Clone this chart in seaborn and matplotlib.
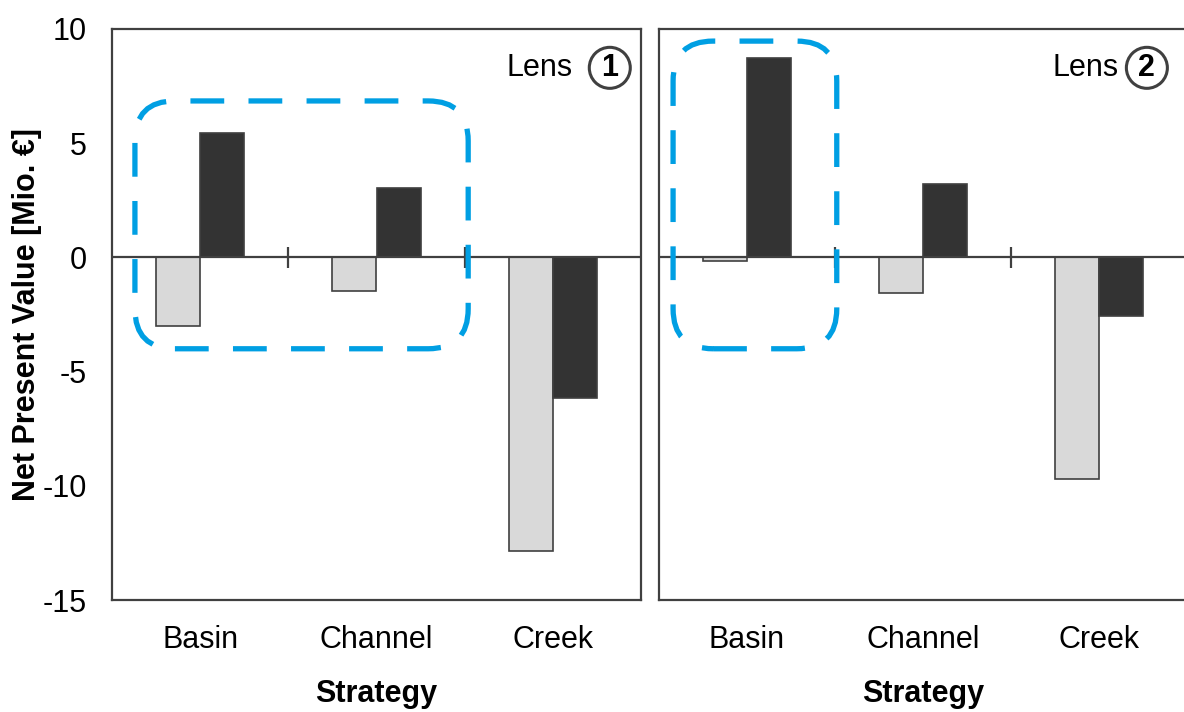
import pandas as pd
import matplotlib
matplotlib.use("Agg")
import matplotlib.pyplot as plt
import seaborn as sns
from matplotlib.patches import FancyBboxPatch
from matplotlib.transforms import IdentityTransform

# Data (Mio. EUR)
strategies = ["Basin", "Channel", "Creek"]
variants = ["Variant A", "Variant B"]
lens1_a = [-3.0, -1.45, -12.85]
lens1_b = [5.45, 3.05, -6.15]
lens2_a = [-0.15, -1.55, -9.7]
lens2_b = [8.75, 3.2, -2.55]

sns.set_style("white")
plt.rcParams["font.family"] = ["Liberation Sans", "DejaVu Sans"]
plt.rcParams["axes.unicode_minus"] = False
plt.rcParams["text.color"] = "black"
plt.rcParams["axes.labelcolor"] = "black"
plt.rcParams["xtick.color"] = "black"
plt.rcParams["ytick.color"] = "black"

edge = "#404040"
palette = {"Variant A": "#d9d9d9", "Variant B": "#333333"}
blue = "#009fe3"


def make_df(a, b):
    rows = []
    for s, va, vb in zip(strategies, a, b):
        rows.append({"Strategy": s, "Variant": variants[0], "NPV": va})
        rows.append({"Strategy": s, "Variant": variants[1], "NPV": vb})
    return pd.DataFrame(rows)


W, H = 1184, 712
fig = plt.figure(figsize=(W / 100, H / 100), dpi=100)
ax1 = fig.add_axes([112 / W, (H - 600) / H, 529 / W, 571 / H])
ax2 = fig.add_axes([659 / W, (H - 600) / H, 528 / W, 571 / H])

panels = [
    (ax1, make_df(lens1_a, lens1_b)),
    (ax2, make_df(lens2_a, lens2_b)),
]

for ax, df in panels:
    sns.barplot(
        data=df, x="Strategy", y="NPV", hue="Variant", order=strategies,
        hue_order=variants, palette=palette, width=0.5, edgecolor=edge,
        linewidth=1.2, saturation=1, ax=ax, legend=False,
    )
    ax.set_xlim(-0.5, 2.5)
    ax.set_ylim(-15, 10)
    ax.set_yticks([-15, -10, -5, 0, 5, 10])
    # zero axis line with category separator ticks
    ax.axhline(0, color=edge, lw=1.6, zorder=3)
    ax.vlines([0.5, 1.5], -0.45, 0.45, color=edge, lw=1.6, zorder=3)
    for sp in ax.spines.values():
        sp.set_color(edge)
        sp.set_linewidth(1.6)
    ax.tick_params(axis="both", length=0, labelsize=22)
    ax.tick_params(axis="x", pad=18)
    ax.tick_params(axis="y", pad=18)
    ax.set_xlabel("Strategy", fontsize=22, fontweight="bold", labelpad=17)
    ax.set_ylabel("")
    ax.text(0.87, 0.932, "Lens", transform=ax.transAxes, ha="right",
            va="center", fontsize=22)

ax1.text(0.941, 0.932, "1", transform=ax1.transAxes, ha="center", va="center",
         fontsize=22, fontweight="bold",
         bbox=dict(boxstyle="circle,pad=0.18", fc="white", ec=edge, lw=2.2))
ax2.text(0.924, 0.932, "2", transform=ax2.transAxes, ha="center", va="center",
         fontsize=22, fontweight="bold",
         bbox=dict(boxstyle="circle,pad=0.18", fc="white", ec=edge, lw=2.2))

ax1.set_ylabel("Net Present Value [Mio. €]", fontsize=22, fontweight="bold")
ax1.yaxis.set_label_coords(-0.132, 0.5)
ax2.set_yticklabels([])
ax2.spines["right"].set_visible(False)

# dashed highlight boxes (data coords -> pixels so corners stay round)
boxes = [(ax1, -0.37, -4.0, 1.52, 6.85), (ax2, -0.42, -4.0, 0.51, 9.47)]
for ax, x0, y0, x1, y1 in boxes:
    (px0, py0), (px1, py1) = ax.transData.transform([(x0, y0), (x1, y1)])
    patch = FancyBboxPatch(
        (px0, py0), px1 - px0, py1 - py0,
        boxstyle="round,pad=0,rounding_size=40", transform=IdentityTransform(),
        fill=False, ec=blue, lw=3.8, ls=(0, (6.4, 4.6)), zorder=5,
        clip_on=False,
    )
    fig.patches.append(patch)

fig.savefig("out.png", dpi=100)
